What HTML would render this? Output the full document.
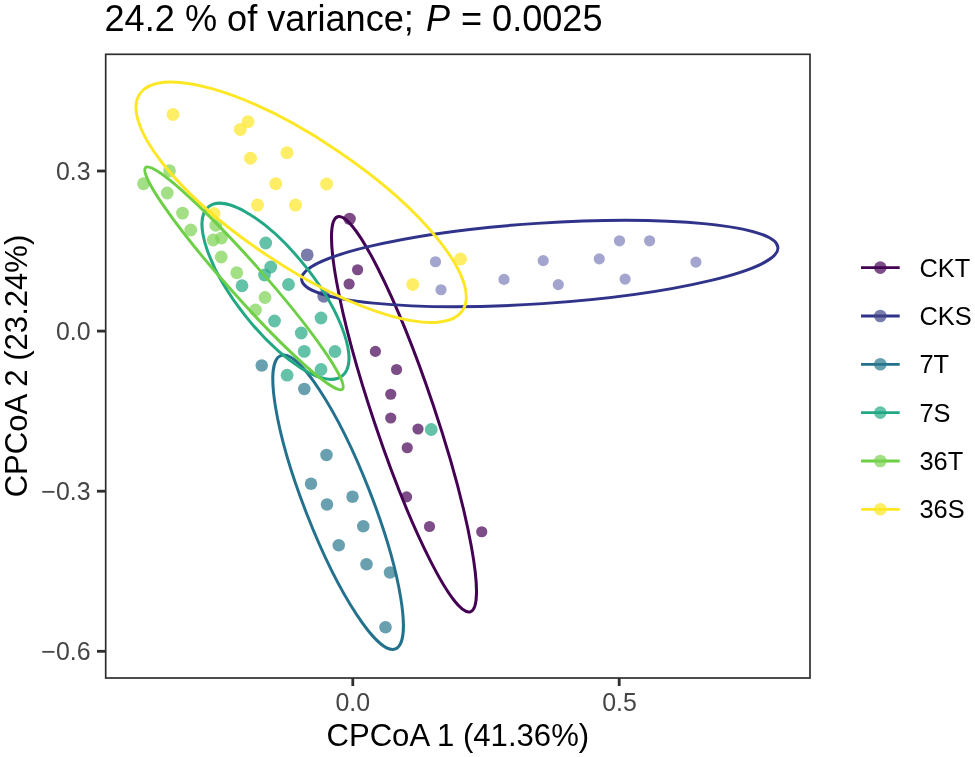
<!DOCTYPE html>
<html lang="en"><head><meta charset="utf-8"><title>CPCoA plot</title>
<style>
html,body{margin:0;padding:0;background:#fff;}
body{width:975px;height:757px;overflow:hidden;}
svg{display:block;font-family:"Liberation Sans",Arial,sans-serif;}
.tk{font-size:24.9px;fill:#454545;}
.ax{font-size:31.1px;fill:#000;}
.lg{font-size:25.4px;fill:#000;}
.tt{font-size:36.15px;fill:#000;}
</style></head><body>
<svg width="975" height="757" viewBox="0 0 975 757">
<rect x="0" y="0" width="975" height="757" fill="#ffffff"/>
<text class="tt" x="104.5" y="30.8">24.2 % of variance; <tspan font-style="italic" dx="2.1">P</tspan><tspan dx="0.7"> = 0.0025</tspan></text>
<g>
<circle cx="349.6" cy="218.9" r="6.2" fill="#440154" fill-opacity="0.7"/>
<circle cx="357.6" cy="269.75" r="5.6" fill="#440154" fill-opacity="0.7"/>
<circle cx="349.1" cy="284" r="5.6" fill="#440154" fill-opacity="0.7"/>
<circle cx="375.4" cy="351.4" r="5.6" fill="#440154" fill-opacity="0.7"/>
<circle cx="396.55" cy="369.5" r="5.6" fill="#440154" fill-opacity="0.7"/>
<circle cx="390.75" cy="394.25" r="5.6" fill="#440154" fill-opacity="0.7"/>
<circle cx="390.75" cy="418" r="5.6" fill="#440154" fill-opacity="0.7"/>
<circle cx="418" cy="429" r="5.6" fill="#440154" fill-opacity="0.7"/>
<circle cx="407.25" cy="447.75" r="5.6" fill="#440154" fill-opacity="0.7"/>
<circle cx="406.6" cy="496.9" r="5.6" fill="#440154" fill-opacity="0.7"/>
<circle cx="429.5" cy="526.5" r="5.6" fill="#440154" fill-opacity="0.7"/>
<circle cx="481.75" cy="531.75" r="5.6" fill="#440154" fill-opacity="0.7"/>
<circle cx="307.2" cy="254.9" r="6.4" fill="#414487" fill-opacity="0.7"/>
<circle cx="323.75" cy="296.25" r="6.4" fill="#414487" fill-opacity="0.7"/>
<circle cx="435.5" cy="261.75" r="5.6" fill="#363b94" fill-opacity="0.46"/>
<circle cx="441" cy="289.75" r="5.6" fill="#363b94" fill-opacity="0.46"/>
<circle cx="504" cy="279.4" r="5.6" fill="#363b94" fill-opacity="0.46"/>
<circle cx="543.2" cy="260.6" r="5.6" fill="#363b94" fill-opacity="0.46"/>
<circle cx="558.3" cy="284.6" r="5.6" fill="#363b94" fill-opacity="0.46"/>
<circle cx="599.3" cy="258.9" r="5.6" fill="#363b94" fill-opacity="0.46"/>
<circle cx="619.5" cy="240.8" r="5.6" fill="#363b94" fill-opacity="0.46"/>
<circle cx="625.1" cy="279.1" r="5.6" fill="#363b94" fill-opacity="0.46"/>
<circle cx="649.6" cy="240.8" r="5.6" fill="#363b94" fill-opacity="0.46"/>
<circle cx="695.9" cy="262.1" r="5.6" fill="#363b94" fill-opacity="0.46"/>
<circle cx="261.75" cy="365.5" r="6.25" fill="#2A788E" fill-opacity="0.7"/>
<circle cx="304.3" cy="389.0" r="6.25" fill="#2A788E" fill-opacity="0.7"/>
<circle cx="326.5" cy="455" r="6.25" fill="#2A788E" fill-opacity="0.7"/>
<circle cx="311" cy="483.75" r="6.25" fill="#2A788E" fill-opacity="0.7"/>
<circle cx="352.5" cy="496.75" r="6.25" fill="#2A788E" fill-opacity="0.7"/>
<circle cx="327" cy="504.5" r="6.25" fill="#2A788E" fill-opacity="0.7"/>
<circle cx="363.25" cy="526.25" r="6.25" fill="#2A788E" fill-opacity="0.7"/>
<circle cx="338.75" cy="545.25" r="6.25" fill="#2A788E" fill-opacity="0.7"/>
<circle cx="366.5" cy="564.25" r="6.25" fill="#2A788E" fill-opacity="0.7"/>
<circle cx="390" cy="572.5" r="6.25" fill="#2A788E" fill-opacity="0.7"/>
<circle cx="385.5" cy="627.25" r="6.25" fill="#2A788E" fill-opacity="0.7"/>
<circle cx="265.75" cy="243" r="6.4" fill="#22A884" fill-opacity="0.7"/>
<circle cx="270.75" cy="267" r="6.4" fill="#22A884" fill-opacity="0.7"/>
<circle cx="264.5" cy="275" r="6.4" fill="#22A884" fill-opacity="0.7"/>
<circle cx="288.5" cy="284.5" r="6.4" fill="#22A884" fill-opacity="0.7"/>
<circle cx="242" cy="285.75" r="6.4" fill="#22A884" fill-opacity="0.7"/>
<circle cx="321" cy="318" r="6.4" fill="#22A884" fill-opacity="0.7"/>
<circle cx="274.5" cy="321" r="6.4" fill="#22A884" fill-opacity="0.7"/>
<circle cx="301.25" cy="333" r="6.4" fill="#22A884" fill-opacity="0.7"/>
<circle cx="304.25" cy="351.4" r="6.4" fill="#22A884" fill-opacity="0.7"/>
<circle cx="335" cy="351.5" r="6.4" fill="#22A884" fill-opacity="0.7"/>
<circle cx="321" cy="369.5" r="6.4" fill="#22A884" fill-opacity="0.7"/>
<circle cx="287.1" cy="375.2" r="6.4" fill="#22A884" fill-opacity="0.7"/>
<circle cx="431.25" cy="429.5" r="6.4" fill="#22A884" fill-opacity="0.7"/>
<circle cx="169.5" cy="170.75" r="6.4" fill="#7AD151" fill-opacity="0.7"/>
<circle cx="143.5" cy="183.75" r="6.4" fill="#7AD151" fill-opacity="0.7"/>
<circle cx="167.25" cy="193" r="6.4" fill="#7AD151" fill-opacity="0.7"/>
<circle cx="182.5" cy="213.1" r="6.4" fill="#7AD151" fill-opacity="0.7"/>
<circle cx="190.75" cy="230" r="6.4" fill="#7AD151" fill-opacity="0.7"/>
<circle cx="215.75" cy="225.25" r="6.4" fill="#7AD151" fill-opacity="0.7"/>
<circle cx="213.25" cy="240" r="6.4" fill="#7AD151" fill-opacity="0.7"/>
<circle cx="221.5" cy="238" r="6.4" fill="#7AD151" fill-opacity="0.7"/>
<circle cx="221.25" cy="257" r="6.4" fill="#7AD151" fill-opacity="0.7"/>
<circle cx="236.75" cy="272.75" r="6.4" fill="#7AD151" fill-opacity="0.7"/>
<circle cx="265" cy="297.5" r="6.4" fill="#7AD151" fill-opacity="0.7"/>
<circle cx="255.5" cy="310" r="6.4" fill="#7AD151" fill-opacity="0.7"/>
<circle cx="173" cy="114.5" r="6.5" fill="#FDE725" fill-opacity="0.7"/>
<circle cx="248" cy="121.75" r="6.5" fill="#FDE725" fill-opacity="0.7"/>
<circle cx="240.25" cy="129.5" r="6.5" fill="#FDE725" fill-opacity="0.7"/>
<circle cx="287" cy="152.75" r="6.5" fill="#FDE725" fill-opacity="0.7"/>
<circle cx="250.5" cy="158.25" r="6.5" fill="#FDE725" fill-opacity="0.7"/>
<circle cx="275.75" cy="183.75" r="6.5" fill="#FDE725" fill-opacity="0.7"/>
<circle cx="326.6" cy="184" r="6.5" fill="#FDE725" fill-opacity="0.7"/>
<circle cx="257.5" cy="205.1" r="6.5" fill="#FDE725" fill-opacity="0.7"/>
<circle cx="295.5" cy="205.1" r="6.5" fill="#FDE725" fill-opacity="0.7"/>
<circle cx="214" cy="213.6" r="6.5" fill="#FDE725" fill-opacity="0.7"/>
<circle cx="460.5" cy="259" r="6.5" fill="#FDE725" fill-opacity="0.7"/>
<circle cx="412.75" cy="284.5" r="6.5" fill="#FDE725" fill-opacity="0.7"/>
</g>
<g fill="none" stroke-width="2.95">
<ellipse cx="403.99" cy="414.28" rx="208.38" ry="30.62" transform="rotate(71.42 403.99 414.28)" stroke="#440154"/>
<ellipse cx="539.78" cy="263.50" rx="238.69" ry="40.22" transform="rotate(-3.83 539.78 263.50)" stroke="#30338a"/>
<ellipse cx="338.10" cy="502.30" rx="157.50" ry="33.40" transform="rotate(68.64 338.10 502.30)" stroke="#24718d"/>
<ellipse cx="275.50" cy="291.30" rx="107.80" ry="38.90" transform="rotate(51.72 275.50 291.30)" stroke="#22A884"/>
<ellipse cx="244.00" cy="278.35" rx="148.20" ry="17.30" transform="rotate(48.39 244.00 278.35)" stroke="#6ccf45"/>
<ellipse cx="301.11" cy="202.28" rx="194.34" ry="63.04" transform="rotate(33.86 301.11 202.28)" stroke="#FDE725"/>
</g>
<rect x="105.7" y="54.3" width="704.3" height="623.7" fill="none" stroke="#2e2e2e" stroke-width="1.7"/>
<g stroke="#2e2e2e" stroke-width="2.8">
<line x1="97" x2="105.7" y1="171.0" y2="171.0"/>
<line x1="97" x2="105.7" y1="331.1" y2="331.1"/>
<line x1="97" x2="105.7" y1="491.2" y2="491.2"/>
<line x1="97" x2="105.7" y1="651.3" y2="651.3"/>
<line x1="352.8" x2="352.8" y1="678.0" y2="686"/>
<line x1="619.2" x2="619.2" y1="678.0" y2="686"/>
</g>
<text class="tk" text-anchor="end" x="90.5" y="179.9">0.3</text>
<text class="tk" text-anchor="end" x="90.5" y="340.0">0.0</text>
<text class="tk" text-anchor="end" x="90.5" y="500.09999999999997">−0.3</text>
<text class="tk" text-anchor="end" x="90.5" y="660.1999999999999">−0.6</text>
<text class="tk" text-anchor="middle" x="352.8" y="710.7">0.0</text>
<text class="tk" text-anchor="middle" x="619.6" y="710.7">0.5</text>
<text class="ax" text-anchor="middle" x="457.8" y="746">CPCoA 1 (41.36%)</text>
<text class="ax" text-anchor="middle" transform="translate(27.2,366) rotate(-90)">CPCoA 2 (23.24%)</text>
<line x1="861" x2="899.7" y1="267.6" y2="267.6" stroke="#440154" stroke-width="2.8"/><circle cx="880.3" cy="267.6" r="6.3" fill="#440154" fill-opacity="0.7"/><text class="lg" x="919.5" y="276.5">CKT</text>
<line x1="861" x2="899.7" y1="316" y2="316" stroke="#30338a" stroke-width="2.8"/><circle cx="880.3" cy="316" r="6.3" fill="#414487" fill-opacity="0.7"/><text class="lg" x="919.5" y="324.9">CKS</text>
<line x1="861" x2="899.7" y1="364.3" y2="364.3" stroke="#24718d" stroke-width="2.8"/><circle cx="880.3" cy="364.3" r="6.3" fill="#2A788E" fill-opacity="0.7"/><text class="lg" x="919.5" y="373.2">7T</text>
<line x1="861" x2="899.7" y1="412.6" y2="412.6" stroke="#22A884" stroke-width="2.8"/><circle cx="880.3" cy="412.6" r="6.3" fill="#22A884" fill-opacity="0.7"/><text class="lg" x="919.5" y="421.5">7S</text>
<line x1="861" x2="899.7" y1="461" y2="461" stroke="#6ccf45" stroke-width="2.8"/><circle cx="880.3" cy="461" r="6.3" fill="#7AD151" fill-opacity="0.7"/><text class="lg" x="919.5" y="469.9">36T</text>
<line x1="861" x2="899.7" y1="509.3" y2="509.3" stroke="#FDE725" stroke-width="2.8"/><circle cx="880.3" cy="509.3" r="6.3" fill="#FDE725" fill-opacity="0.7"/><text class="lg" x="919.5" y="518.2">36S</text>
</svg>
</body></html>
